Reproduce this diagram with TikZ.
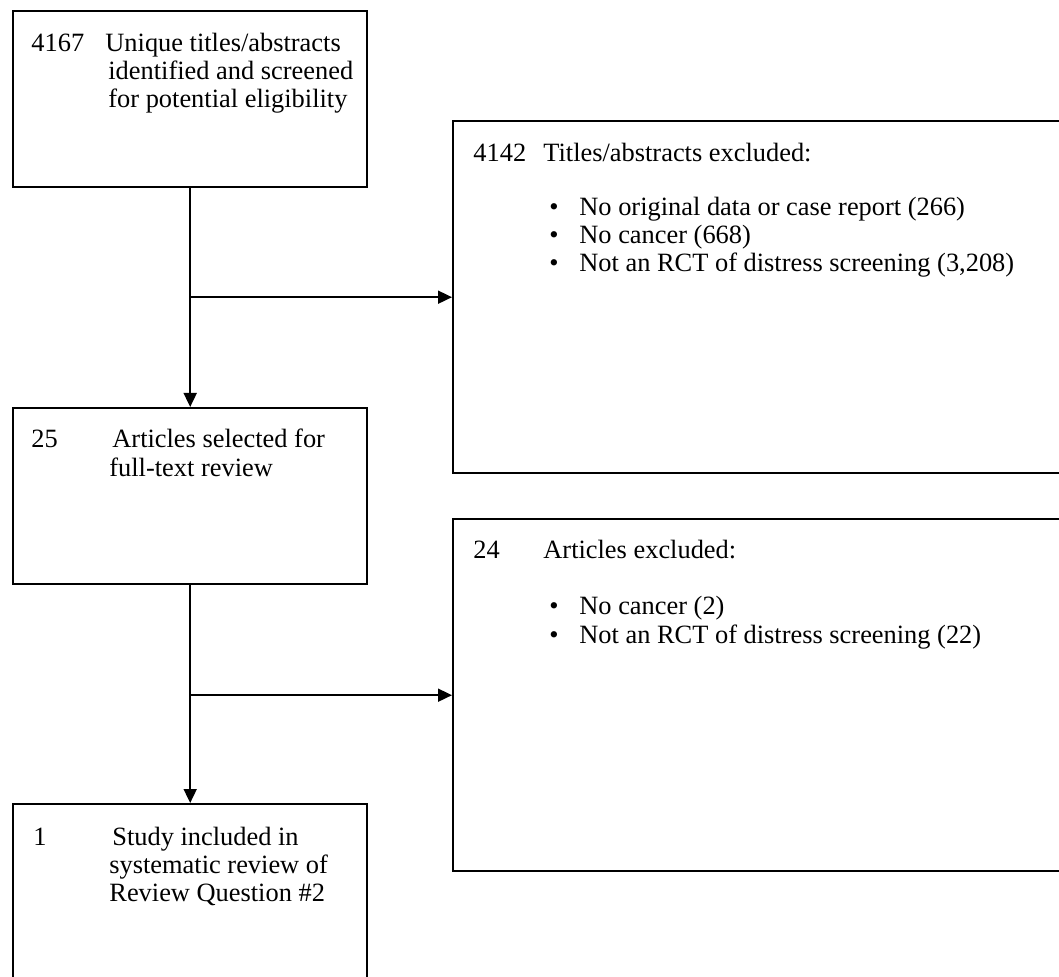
\documentclass[tikz,border=0pt]{standalone}
\usepackage{fontspec}
\setmainfont{Liberation Serif}
\usetikzlibrary{
  arrows.meta
}

\begin{document}
\begin{tikzpicture}[
  x=0.5pt, y=-0.5pt,
  every node/.style={inner sep=0pt, font=\fontsize{13.2}{15}\selectfont},
  stage/.style={draw, line width=1.2pt, anchor=north west, minimum width=177pt},
  txt/.style={anchor=base west},
  flow/.style={line width=0.9pt, -{Triangle[length=7pt,width=6.5pt]}},
]
\useasboundingbox (0,0) rectangle (1059,977);
\clip (0,0) rectangle (1059,977);
% boxes on the left
\node[stage, minimum height=88pt] (ident) at (12,10) {};
\node[stage, minimum height=88pt] (review) at (12,407) {};
\node[stage, minimum height=95pt] (incl) at (12,803) {};
% boxes on the right
\node[stage, minimum width=315pt, minimum height=176pt] (excltitles) at (452,120) {};
\node[stage, minimum width=315pt, minimum height=176pt] (exclarticles) at (452,518) {};
% arrows
\draw[flow] (ident.south) -- (review.north);
\draw[flow] (review.south) -- (incl.north);
\draw[flow] (ident.south |- excltitles.west) -- (excltitles.west);
\draw[flow] (review.south |- exclarticles.west) -- (exclarticles.west);
% texts
\node[txt] (identnum) at (31,52) {4167};
\node[txt] (identa) at (105,52) {Unique titles/abstracts};
\node[txt] (identb) at (108,80) {identified and screened};
\node[txt] (identc) at (108,108) {for potential eligibility};
\node[txt] (titlesnum) at (473,162) {4142};
\node[txt] (titlesa) at (543,162) {Titles/abstracts excluded:};
\node[txt] (titlesb) at (549,216) {\textbullet};
\node[txt] (titlesc) at (579,216) {No original data or case report (266)};
\node[txt] (titlesd) at (549,244) {\textbullet};
\node[txt] (titlese) at (579,244) {No cancer (668)};
\node[txt] (titlesf) at (549,272) {\textbullet};
\node[txt] (titlesg) at (579,272) {Not an RCT of distress screening (3,208)};
\node[txt] (reviewnum) at (31,448) {25};
\node[txt] (reviewa) at (112,448) {Articles selected for};
\node[txt] (reviewb) at (109,477) {full-text review};
\node[txt] (articlesnum) at (473,559) {24};
\node[txt] (articlesa) at (543,559) {Articles excluded:};
\node[txt] (articlesb) at (549,615) {\textbullet};
\node[txt] (articlesc) at (579,615) {No cancer (2)};
\node[txt] (articlesd) at (549,643) {\textbullet};
\node[txt] (articlese) at (579,643) {Not an RCT of distress screening (22)};
\node[txt] (inclnum) at (33,845) {1};
\node[txt] (incla) at (112,845) {Study included in};
\node[txt] (inclb) at (109,873) {systematic review of};
\node[txt] (inclc) at (109,901) {Review Question \#2};
\end{tikzpicture}
\end{document}
